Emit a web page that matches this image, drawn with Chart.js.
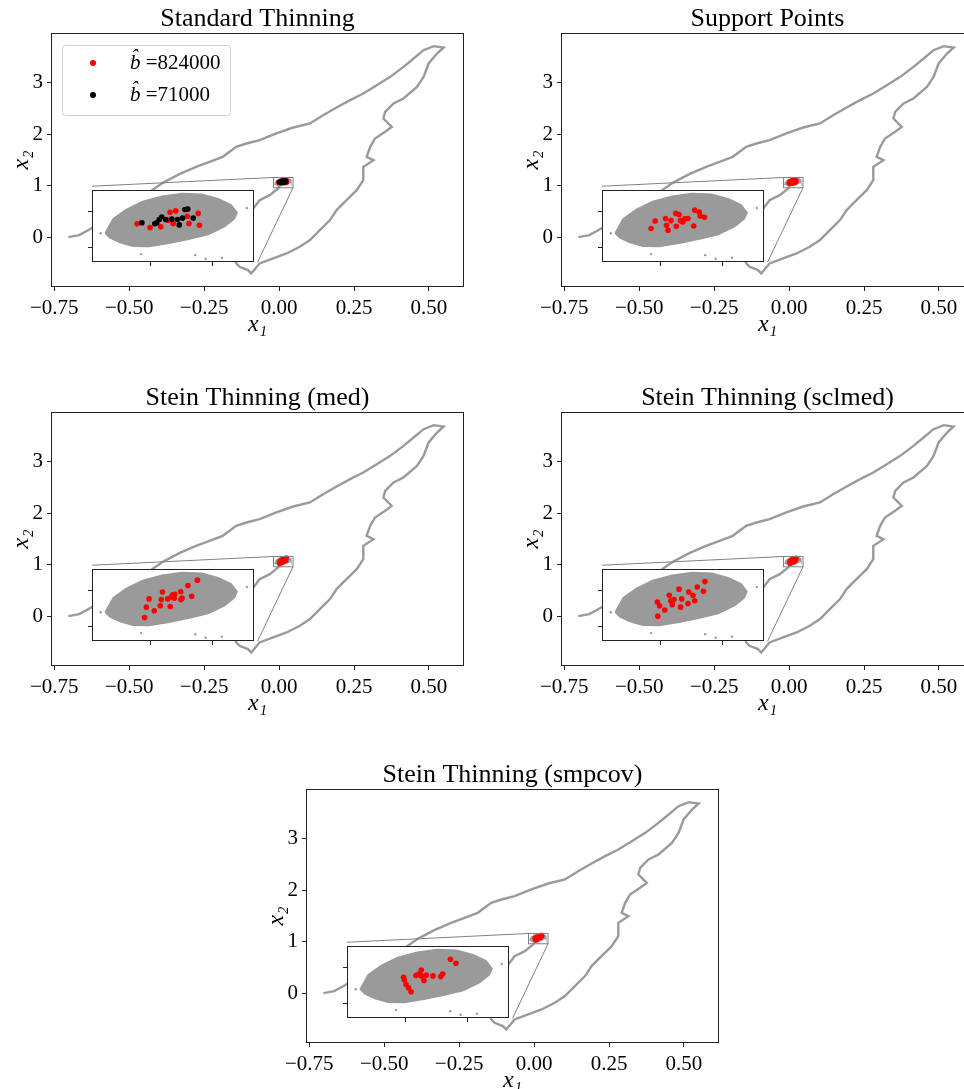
<!DOCTYPE html>
<html>
<head>
<meta charset="utf-8">
<script src="https://cdn.jsdelivr.net/npm/chart.js@4.4.0/dist/chart.umd.min.js"></script>
<style>
html, body { margin: 0; padding: 0; background: #fff; overflow: hidden; }
body { width: 964px; height: 1089px; position: relative; }
canvas { position: absolute; }
</style>
</head>
<body>
<script>
// ---- data ----
const xTicks = [-0.75, -0.5, -0.25, 0, 0.25, 0.5];
const yTicks = [0, 1, 2, 3];
const xRange = [-0.761, 0.617];
const yRange = [-0.97, 3.97];

// zoomed region shown in every inset
const insetXRange = [-0.0185, 0.0465];
const insetYRange = [0.96, 1.16];
const insetTicksX = [0.005, 0.03];
const insetTicksY = [1.0, 1.1];

// MCMC trajectory (gray path)
const trajX = [-0.703, -0.667, -0.640, -0.500, -0.388, -0.333, -0.277, -0.232, -0.188, -0.143, -0.109, -0.065, -0.009, 0.047, 0.103, 0.147, 0.192, 0.237, 0.281, 0.326, 0.371, 0.415, 0.449, 0.482, 0.516, 0.549, 0.527, 0.499, 0.482, 0.460, 0.415, 0.382, 0.354, 0.348, 0.376, 0.354, 0.320, 0.304, 0.292, 0.315, 0.281, 0.281, 0.259, 0.225, 0.192, 0.170, 0.136, 0.103, 0.069, 0.025, -0.020, -0.065, -0.093, -0.104, -0.132, -0.143, -0.160, -0.100, -0.065, -0.031, -0.003, 0.005];
const trajY = [0.000, 0.039, 0.123, 0.600, 1.056, 1.225, 1.367, 1.465, 1.562, 1.756, 1.821, 1.886, 2.016, 2.132, 2.210, 2.372, 2.521, 2.664, 2.793, 2.955, 3.117, 3.312, 3.474, 3.636, 3.714, 3.688, 3.571, 3.377, 3.117, 2.923, 2.696, 2.599, 2.437, 2.307, 2.145, 2.048, 1.918, 1.756, 1.562, 1.497, 1.367, 1.108, 0.914, 0.719, 0.525, 0.331, 0.136, -0.058, -0.188, -0.318, -0.415, -0.512, -0.706, -0.642, -0.577, -0.512, -0.200, 0.450, 0.719, 0.817, 0.946, 1.030];

// outline of the dense sample cloud
const cloudX = [-0.0132, -0.0100, -0.0047, 0.0018, 0.0097, 0.0176, 0.0255, 0.0321, 0.0373, 0.0397, 0.0386, 0.0347, 0.0281, 0.0202, 0.0124, 0.0045, -0.0021, -0.0073, -0.0113, -0.0132];
const cloudY = [1.040, 1.080, 1.106, 1.128, 1.143, 1.150, 1.148, 1.136, 1.119, 1.097, 1.080, 1.058, 1.036, 1.023, 1.012, 1.003, 1.004, 1.014, 1.027, 1.040];
const strayX = [0.0229, 0.0271, 0.0336, 0.0436, 0.0012, -0.0150];
const strayY = [0.979, 0.969, 0.972, 1.110, 0.982, 1.040];

// selected points
const std824X = [-0.0004, 0.0048, 0.0091, 0.0128, 0.0151, 0.0120, 0.0141, 0.0197, 0.0204, 0.0241, 0.0246];
const std824Y = [1.066, 1.056, 1.058, 1.098, 1.102, 1.076, 1.067, 1.087, 1.067, 1.095, 1.062];
const std71X = [0.0015, 0.0067, 0.0085, 0.0095, 0.0111, 0.0135, 0.0158, 0.0165, 0.0178, 0.0188, 0.0199, 0.0221, 0.0075];
const std71Y = [1.069, 1.066, 1.078, 1.085, 1.078, 1.079, 1.078, 1.063, 1.082, 1.106, 1.107, 1.082, 1.069];
const supportX = [0.0012, 0.0028, 0.0070, 0.0074, 0.0080, 0.0092, 0.0111, 0.0124, 0.0113, 0.0130, 0.0139, 0.0147, 0.0160, 0.0187, 0.0183, 0.0205, 0.0209, 0.0226];
const supportY = [1.053, 1.074, 1.081, 1.062, 1.048, 1.075, 1.095, 1.092, 1.059, 1.075, 1.071, 1.080, 1.081, 1.104, 1.060, 1.099, 1.088, 1.084];
const medX = [0.0026, 0.0033, 0.0044, 0.0065, 0.0089, 0.0093, 0.0098, 0.0119, 0.0129, 0.0134, 0.0139, 0.0145, 0.0147, 0.0171, 0.0172, 0.0176, 0.0200, 0.0215, 0.0238];
const medY = [1.025, 1.054, 1.077, 1.044, 1.058, 1.075, 1.096, 1.077, 1.056, 1.083, 1.088, 1.079, 1.090, 1.097, 1.075, 1.079, 1.114, 1.084, 1.129];
const sclmedX = [0.0039, 0.0037, 0.0046, 0.0067, 0.0085, 0.0091, 0.0097, 0.0104, 0.0124, 0.0130, 0.0135, 0.0160, 0.0163, 0.0180, 0.0187, 0.0197, 0.0222, 0.0228];
const sclmedY = [1.029, 1.068, 1.058, 1.046, 1.087, 1.072, 1.061, 1.075, 1.104, 1.054, 1.077, 1.064, 1.096, 1.087, 1.072, 1.110, 1.098, 1.125];
const smpcovX = [0.0042, 0.0045, 0.0052, 0.0062, 0.0072, 0.0092, 0.0104, 0.0113, 0.0113, 0.0124, 0.0133, 0.0160, 0.0191, 0.0199, 0.0230, 0.0252];
const smpcovY = [1.073, 1.066, 1.053, 1.044, 1.033, 1.078, 1.082, 1.093, 1.077, 1.064, 1.079, 1.077, 1.075, 1.082, 1.123, 1.112];

// ---- layout / style ----
const FONT = "'Liberation Serif', 'DejaVu Serif', serif";
const GRAY = '#9a9a9a';
const FRAME = '#222';
const insetAt = { x0: -0.624, x1: -0.072, y0: -0.49, y1: 0.99 };  // main-axis coords
const TICK = 5;

const panels = [
    { left: 0, top: 0, title: 'Standard Thinning', legend: true,
      sets: [{ label: '824000', color: '#ff0000', xs: std824X, ys: std824Y },
             { label: '71000', color: '#000000', xs: std71X, ys: std71Y }] },
    { left: 510, top: 0, title: 'Support Points',
      sets: [{ label: '', color: '#ff0000', xs: supportX, ys: supportY }] },
    { left: 0, top: 379, title: 'Stein Thinning (med)',
      sets: [{ label: '', color: '#ff0000', xs: medX, ys: medY }] },
    { left: 510, top: 379, title: 'Stein Thinning (sclmed)',
      sets: [{ label: '', color: '#ff0000', xs: sclmedX, ys: sclmedY }] },
    { left: 255, top: 756, title: 'Stein Thinning (smpcov)',
      sets: [{ label: '', color: '#ff0000', xs: smpcovX, ys: smpcovY }] }
];

const zip = (xs, ys) => xs.map((x, i) => ({ x: x, y: ys[i] }));
const minus = s => s.replace('-', '\u2212');

const framePlugin = {
    id: 'frame',
    afterDraw(chart) {
        const a = chart.chartArea, ctx = chart.ctx;
        ctx.save();
        ctx.strokeStyle = FRAME;
        ctx.lineWidth = 1;
        ctx.strokeRect(Math.round(a.left) + 0.5, Math.round(a.top) + 0.5,
                       Math.round(a.width) - 1, Math.round(a.height) - 1);
        ctx.restore();
    }
};

// title centred over the plot area (matplotlib style), not the canvas
const panelTitle = {
    id: 'panelTitle',
    afterDraw(chart, args, opts) {
        const a = chart.chartArea, ctx = chart.ctx;
        ctx.save();
        ctx.fillStyle = '#000';
        ctx.font = '26px ' + FONT;
        ctx.textAlign = 'center';
        ctx.textBaseline = 'middle';
        ctx.fillText(opts.text, (a.left + a.right) / 2, 19);
        ctx.restore();
    }
};

const whiteBg = {
    id: 'whiteBg',
    beforeDraw(chart) {
        const a = chart.chartArea, ctx = chart.ctx;
        ctx.save();
        ctx.fillStyle = '#fff';
        ctx.fillRect(a.left, a.top, a.width, a.height);
        ctx.restore();
    }
};

// rectangle around the zoomed region plus the two connector lines
const markInset = {
    id: 'markInset',
    afterDatasetsDraw(chart) {
        const sx = chart.scales.x, sy = chart.scales.y, ctx = chart.ctx;
        const rx0 = sx.getPixelForValue(insetXRange[0]), rx1 = sx.getPixelForValue(insetXRange[1]);
        const ry0 = sy.getPixelForValue(insetYRange[1]), ry1 = sy.getPixelForValue(insetYRange[0]);
        const ix0 = sx.getPixelForValue(insetAt.x0), ix1 = sx.getPixelForValue(insetAt.x1);
        const iy0 = sy.getPixelForValue(insetAt.y1), iy1 = sy.getPixelForValue(insetAt.y0);
        ctx.save();
        ctx.strokeStyle = '#808080';
        ctx.lineWidth = 1;
        ctx.strokeRect(rx0, ry0, rx1 - rx0, ry1 - ry0);
        ctx.beginPath();
        ctx.moveTo(rx0, ry0); ctx.lineTo(ix0, iy0);
        ctx.moveTo(rx1, ry1); ctx.lineTo(ix1, iy1);
        ctx.stroke();
        ctx.restore();
    }
};

const legendBox = {
    id: 'legendBox',
    afterDraw(chart) {
        const a = chart.chartArea, ctx = chart.ctx;
        const bx = a.left + 11, by = a.top + 12, bw = 168, bh = 70;
        ctx.save();
        ctx.beginPath();
        ctx.roundRect(bx + 0.5, by + 0.5, bw, bh, 3);
        ctx.fillStyle = 'rgba(255,255,255,0.8)';
        ctx.fill();
        ctx.strokeStyle = '#d0d0d0';
        ctx.lineWidth = 1;
        ctx.stroke();
        const marks = chart.data.datasets.filter(d => d.isMark);
        marks.forEach((d, i) => {
            const cy = by + 18 + i * 32;
            ctx.beginPath();
            ctx.arc(bx + 31, cy, 3, 0, Math.PI * 2);
            ctx.fillStyle = d.backgroundColor;
            ctx.fill();
            ctx.fillStyle = '#000';
            ctx.textBaseline = 'middle';
            ctx.font = 'italic 21px ' + FONT;
            ctx.fillText('b\u0302', bx + 68, cy);
            const w = ctx.measureText('b').width;
            ctx.font = '21px ' + FONT;
            ctx.fillText(' =' + d.label, bx + 68 + w, cy);
        });
        ctx.restore();
    }
};

function cloudSet() {
    return { type: 'line', data: zip(cloudX, cloudY), borderColor: GRAY, backgroundColor: GRAY,
             borderWidth: 1.5, pointRadius: 0, fill: 'shape', tension: 0, order: 9 };
}

function markSets(p, radius) {
    return p.sets.map((s, i) => ({
        type: 'scatter', label: s.label, isMark: true, data: zip(s.xs, s.ys),
        backgroundColor: s.color, borderWidth: 0, pointRadius: radius, order: p.sets.length - i
    }));
}

panels.forEach(p => {
    const cv = document.createElement('canvas');
    cv.width = 480; cv.height = 340;
    cv.style.left = p.left + 'px'; cv.style.top = p.top + 'px';
    document.body.appendChild(cv);

    const tickFont = { family: FONT, size: 21 };
    const plugins = [framePlugin, markInset, panelTitle];
    if (p.legend) plugins.push(legendBox);

    const main = new Chart(cv, {
        type: 'scatter',
        data: {
            datasets: [
                { type: 'line', data: zip(trajX, trajY), borderColor: GRAY, borderWidth: 2.4,
                  pointRadius: 0, fill: false, tension: 0, order: 10 },
                cloudSet(),
                ...markSets(p, 2.8)
            ]
        },
        options: {
            responsive: false,
            animation: false,
            layout: { padding: { left: 0, right: 16, top: 33, bottom: 0 } },
            plugins: {
                legend: { display: false },
                tooltip: { enabled: false },
                title: { display: false },
                panelTitle: { text: p.title }
            },
            scales: {
                x: {
                    type: 'linear', min: xRange[0], max: xRange[1],
                    afterBuildTicks: s => { s.ticks = xTicks.map(v => ({ value: v })); },
                    afterFit: s => { s.height = 53; },
                    ticks: { font: tickFont, color: '#000', padding: 5, maxRotation: 0,
                             callback: v => minus(v.toFixed(2)) },
                    grid: { drawOnChartArea: false, drawTicks: true, tickLength: 4, color: FRAME },
                    border: { display: false },
                    title: { display: true, text: 'x\u2081', color: '#000',
                             font: { family: FONT, size: 24, style: 'italic' },
                             padding: { top: 0, bottom: 1 } }
                },
                y: {
                    type: 'linear', min: yRange[0], max: yRange[1],
                    afterBuildTicks: s => { s.ticks = yTicks.map(v => ({ value: v })); },
                    afterFit: s => { s.width = 51; },
                    ticks: { font: tickFont, color: '#000', padding: 4, callback: v => String(v) },
                    grid: { drawOnChartArea: false, drawTicks: true, tickLength: 4, color: FRAME },
                    border: { display: false },
                    title: { display: true, text: 'x\u2082', color: '#000',
                             font: { family: FONT, size: 24, style: 'italic' },
                             padding: { top: 7, bottom: 0 } }
                }
            }
        },
        plugins: plugins
    });

    // inset axes placed over the main plot
    const sx = main.scales.x, sy = main.scales.y;
    const L = Math.round(sx.getPixelForValue(insetAt.x0)), R = Math.round(sx.getPixelForValue(insetAt.x1));
    const T = Math.round(sy.getPixelForValue(insetAt.y1)), B = Math.round(sy.getPixelForValue(insetAt.y0));
    const ic = document.createElement('canvas');
    ic.width = R - L + TICK; ic.height = B - T + TICK;
    ic.style.left = (p.left + L - TICK) + 'px';
    ic.style.top = (p.top + T) + 'px';
    document.body.appendChild(ic);

    new Chart(ic, {
        type: 'scatter',
        data: {
            datasets: [
                cloudSet(),
                { type: 'scatter', data: zip(strayX, strayY), backgroundColor: GRAY,
                  borderWidth: 0, pointRadius: 1.2, order: 8 },
                ...markSets(p, 2.8)
            ]
        },
        options: {
            responsive: false,
            animation: false,
            layout: { padding: 0 },
            plugins: { legend: { display: false }, tooltip: { enabled: false } },
            scales: {
                x: {
                    type: 'linear', min: insetXRange[0], max: insetXRange[1],
                    afterBuildTicks: s => { s.ticks = insetTicksX.map(v => ({ value: v })); },
                    afterFit: s => { s.height = TICK; },
                    ticks: { display: false },
                    grid: { drawOnChartArea: false, drawTicks: true, tickLength: 4, color: FRAME },
                    border: { display: false }
                },
                y: {
                    type: 'linear', min: insetYRange[0], max: insetYRange[1],
                    afterBuildTicks: s => { s.ticks = insetTicksY.map(v => ({ value: v })); },
                    afterFit: s => { s.width = TICK; },
                    ticks: { display: false },
                    grid: { drawOnChartArea: false, drawTicks: true, tickLength: 4, color: FRAME },
                    border: { display: false }
                }
            }
        },
        plugins: [whiteBg, framePlugin]
    });
});
</script>
</body>
</html>
